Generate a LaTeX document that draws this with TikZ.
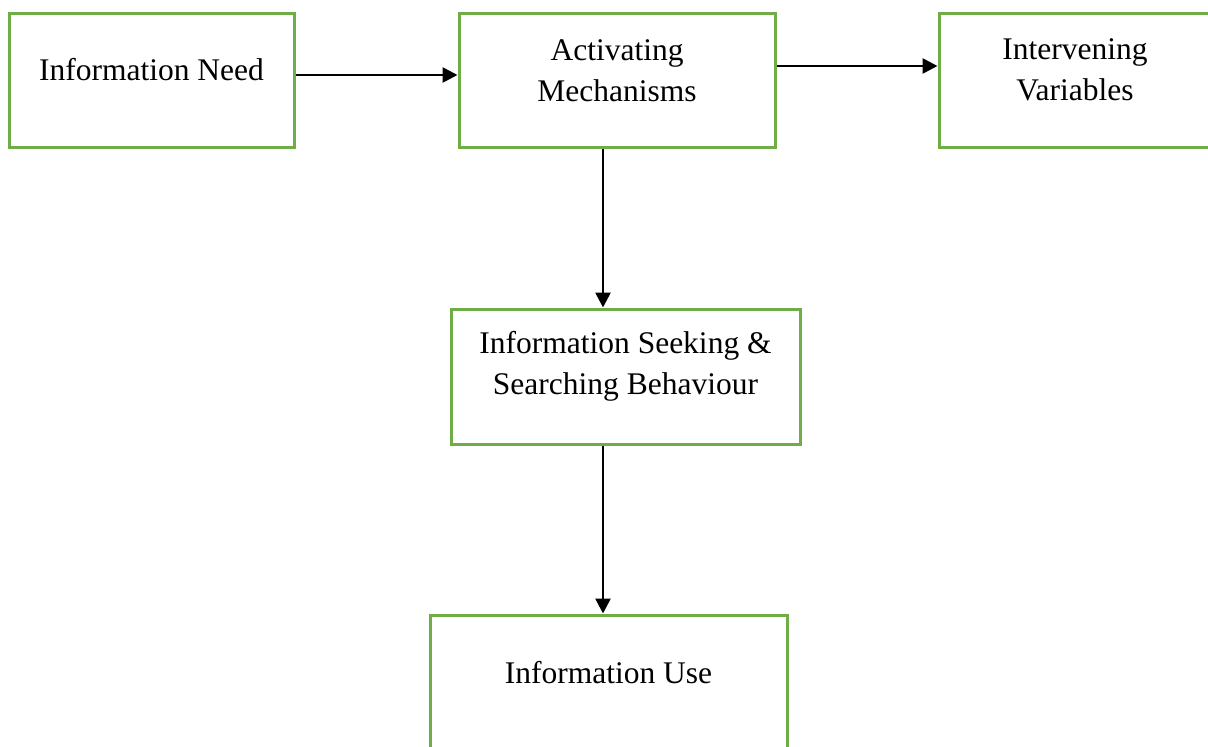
\documentclass[tikz,border=0pt]{standalone}
\usepackage{fontspec}
\setmainfont{Liberation Serif}
\usetikzlibrary{arrows.meta}
\definecolor{boxgreen}{HTML}{70AD47}
\tikzset{
  stage/.style={draw=boxgreen, line width=3pt, fill=white, rectangle,
    minimum height=134pt, inner sep=0pt},
  caption/.style={align=center, font=\fontsize{31.5}{41}\selectfont, inner sep=0pt},
  flow/.style={draw=black, line width=2.7pt,
    -{Triangle[length=15pt,width=15pt]}},
}
\begin{document}
\begin{tikzpicture}[x=1pt,y=-1pt]
  \useasboundingbox (0,0) rectangle (1208,747);
  \clip (0,0) rectangle (1208,747);

  % stage boxes
  \node[stage, minimum width=285pt] (need)  at (151.5,80)  {};
  \node[stage, minimum width=316pt] (act)   at (617,80)    {};
  \node[stage, minimum width=272pt] (inter) at (1075,80)   {};
  \node[stage, minimum width=349pt, minimum height=135pt] (seek) at (625.5,376.5) {};
  \node[stage, minimum width=357pt] (use)   at (608.5,682) {};

  % box captions, set slightly above the box centre
  \node[caption] (needtext)  at ([yshift=10pt]need.center)  {Information Need};
  \node[caption] (acttext)   at ([yshift=9pt]act.center)    {Activating\\Mechanisms};
  \node[caption] (intertext) at ([yshift=10pt]inter.center) {Intervening\\Variables};
  \node[caption] (seektext)  at ([yshift=10pt]seek.center)  {Information Seeking \&\\Searching Behaviour};
  \node[caption] (usetext)   at ([yshift=9pt]use.center)    {Information Use};

  % connectors
  \coordinate (down) at ([xshift=-14pt]act.south);
  \draw[flow] ([yshift=5pt]need.east) -- ([yshift=5pt]act.west);
  \draw[flow] ([yshift=14pt]act.east) -- ([yshift=14pt]inter.west);
  \draw[flow] (down) -- (down |- seek.north);
  \draw[flow] (down |- seek.south) -- (down |- use.north);
\end{tikzpicture}
\end{document}
